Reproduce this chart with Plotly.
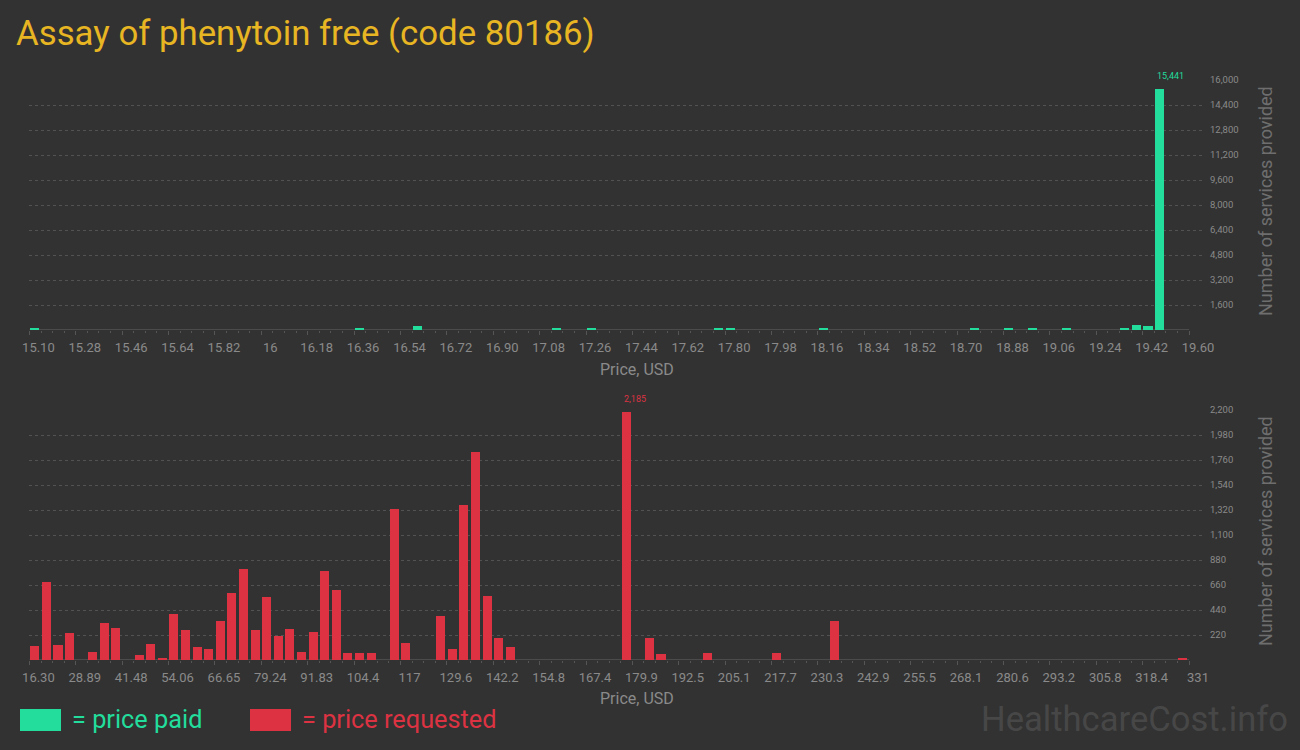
import plotly.graph_objects as go

# ---------------- data ----------------
title_text = "Assay of phenytoin free (code 80186)"

# price paid histogram (100 bins between paid_min and paid_max)
paid_min, paid_max, paid_nbins = 15.10, 19.60, 100
paid_bins = [0, 28, 33, 45, 48, 59, 60, 68, 81, 84, 86, 89, 94, 95, 96, 97]
paid_counts = [70, 65, 260, 70, 110, 65, 70, 65, 70, 65, 70, 65, 150, 320, 256, 15441]
paid_ticktext = ["15.10", "15.28", "15.46", "15.64", "15.82", "16", "16.18", "16.36",
                 "16.54", "16.72", "16.90", "17.08", "17.26", "17.44", "17.62", "17.80",
                 "17.98", "18.16", "18.34", "18.52", "18.70", "18.88", "19.06", "19.24",
                 "19.42", "19.60"]
paid_yticks = [1600, 3200, 4800, 6400, 8000, 9600, 11200, 12800, 14400, 16000]

# price requested histogram
req_min, req_max, req_nbins = 16.30, 331.0, 100
req_bins = [0, 1, 2, 3, 5, 6, 7, 9, 10, 11, 12, 13, 14, 15, 16, 17, 18, 19, 20, 21,
            22, 23, 24, 25, 26, 27, 28, 29, 31, 32, 35, 36, 37, 38, 39, 40, 41, 51,
            53, 54, 58, 64, 69, 99]
req_counts = [123, 690, 132, 238, 70, 326, 282, 44, 141, 22, 405, 264, 114, 97, 343, 590,
              801, 264, 554, 211, 273, 70, 246, 783, 616, 62, 62, 62, 1329, 150, 387, 97,
              1364, 1830, 563, 194, 114, 2185, 194, 53, 62, 62, 343, 18]
req_ticktext = ["16.30", "28.89", "41.48", "54.06", "66.65", "79.24", "91.83", "104.4",
                "117", "129.6", "142.2", "154.8", "167.4", "179.9", "192.5", "205.1",
                "217.7", "230.3", "242.9", "255.5", "268.1", "280.6", "293.2", "305.8",
                "318.4", "331"]
req_yticks = [220, 440, 660, 880, 1100, 1320, 1540, 1760, 1980, 2200]

# ---------------- style ----------------
BG = "#323232"
GREEN = "#22dd9c"
RED = "#dc3242"
GOLD = "#e8b523"
TICK = "#8a8a8a"
AXIS = "#555555"
GRID = "#525252"
FONT = "Roboto, sans-serif"
BAR_FRAC = 0.78

W, H = 1300, 750
x_left_px, x_axis_end_px, x_grid_end_px = 29.4, 1189.0, 1205.0
x_domain = [x_left_px / W, x_grid_end_px / W]

fig = go.Figure()


def add_hist(row, vmin, vmax, nb, bins, counts, color, ticktext, yticks, ydomain):
    bw = (vmax - vmin) / nb
    centers = [vmin + (b + 0.5) * bw for b in bins]
    xa = "x" if row == 1 else "x2"
    ya = "y" if row == 1 else "y2"
    fig.add_trace(go.Bar(x=centers, y=counts, width=bw * BAR_FRAC,
                         marker=dict(color=color, line=dict(width=0)),
                         xaxis=xa, yaxis=ya, showlegend=False, hoverinfo="x+y"))
    nt = len(ticktext) - 1
    step = (vmax - vmin) / nt
    tickvals = [vmin + k * step for k in range(nt + 1)]
    minor_vals = [vmin + k * bw for k in range(nb + 1) if k % (nb // nt) != 0]
    extra = (x_grid_end_px - x_axis_end_px) / (x_axis_end_px - x_left_px) * (vmax - vmin)
    axkey = "xaxis" if row == 1 else "xaxis2"
    aykey = "yaxis" if row == 1 else "yaxis2"
    fig.update_layout(**{
        axkey: dict(domain=x_domain, range=[vmin, vmax + extra], anchor=ya, automargin=False,
                    tickmode="array", tickvals=tickvals, ticktext=ticktext,
                    ticks="outside", ticklen=4, tickcolor=AXIS, tickwidth=1,
                    showgrid=False, zeroline=False, showline=False,
                    tickfont=dict(family=FONT, size=13, color=TICK),
                    ticklabelshift=9, ticklabelstandoff=1,
                    minor=dict(tickmode="array", tickvals=minor_vals, ticks="outside",
                               ticklen=2, tickcolor=AXIS, showgrid=False)),
        aykey: dict(domain=ydomain, range=[0, yticks[-1]], anchor=xa, side="right",
                    automargin=False, tickmode="array", tickvals=yticks,
                    ticktext=[f"{v:,}" for v in yticks],
                    showgrid=True, gridcolor=GRID, griddash="dot", gridwidth=1,
                    zeroline=False, showline=False, ticks="",
                    tickfont=dict(family=FONT, size=9.5, color=TICK),
                    ticklabelstandoff=4),
    })
    # axis baseline spanning the price range
    fig.add_shape(type="line", xref=xa, yref=ya, x0=vmin, x1=vmax, y0=0, y1=0,
                  line=dict(color=AXIS, width=1.5), layer="below")
    # label above the tallest bar, aligned to the bar's left edge
    imax = max(range(len(counts)), key=lambda i: counts[i])
    fig.add_annotation(x=centers[imax] - bw * BAR_FRAC / 2, y=counts[imax], xref=xa, yref=ya,
                       text=f"{counts[imax]:,}", showarrow=False, xanchor="left",
                       yanchor="bottom", yshift=6,
                       font=dict(family=FONT, size=9, color=color))


add_hist(1, paid_min, paid_max, paid_nbins, paid_bins, paid_counts, GREEN, paid_ticktext,
         paid_yticks, [1 - 330 / H, 1 - 80 / H])
add_hist(2, req_min, req_max, req_nbins, req_bins, req_counts, RED, req_ticktext,
         req_yticks, [1 - 660 / H, 1 - 410 / H])


def label(x, y, text, size, color, xanchor="center", angle=0, family=FONT):
    fig.add_annotation(x=x / W, y=1 - y / H, xref="paper", yref="paper", text=text,
                       xanchor=xanchor, yanchor="middle", textangle=angle, showarrow=False,
                       font=dict(family=family, size=size, color=color))


# axis titles
for yc in (369, 698):
    label(637, yc, "Price, USD", 16, "#8a8a8a")
for yc in (201, 531):
    label(1265, yc, "Number of services provided", 18, "#6e6e6e", angle=-90)

# title
label(14, 33, title_text, 34.8, GOLD, xanchor="left")

# legend
fig.add_shape(type="rect", xref="paper", yref="paper", x0=20 / W, x1=61 / W,
              y0=1 - 731 / H, y1=1 - 709 / H, fillcolor=GREEN, line=dict(width=0))
label(70, 719, "= price paid", 25.3, GREEN, xanchor="left")
fig.add_shape(type="rect", xref="paper", yref="paper", x0=250 / W, x1=291 / W,
              y0=1 - 731 / H, y1=1 - 709 / H, fillcolor=RED, line=dict(width=0))
label(300, 719, "= price requested", 25.3, RED, xanchor="left")

# watermark
label(1290, 719, "HealthcareCost.info", 34.6, "#474747", xanchor="right")

fig.update_layout(width=W, height=H, margin=dict(l=0, r=0, t=0, b=0, autoexpand=False),
                  paper_bgcolor=BG, plot_bgcolor=BG, bargap=0, showlegend=False)

fig.write_html("out.html", config={"displayModeBar": False},
               post_script="document.body.style.margin='0';document.body.style.overflow='hidden';")
